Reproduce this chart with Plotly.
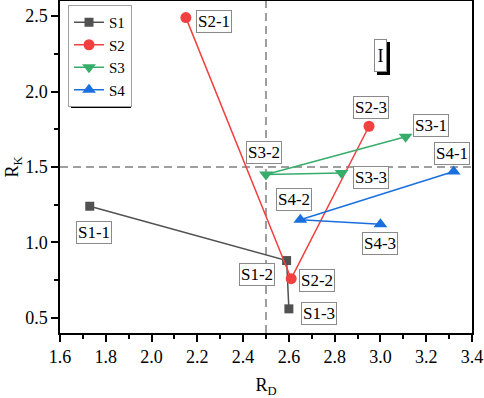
import plotly.graph_objects as go

# ---- data ----
series_names = ["S1", "S2", "S3", "S4"]
rd_s1 = [1.73, 2.59, 2.60]
rk_s1 = [1.24, 0.88, 0.56]
rd_s2 = [2.15, 2.61, 2.95]
rk_s2 = [2.49, 0.76, 1.77]
rd_s3 = [3.11, 2.50, 2.83]
rk_s3 = [1.70, 1.45, 1.46]
rd_s4 = [3.32, 2.65, 3.00]
rk_s4 = [1.47, 1.15, 1.12]
point_labels = [["S1-1", "S1-2", "S1-3"],
                ["S2-1", "S2-2", "S2-3"],
                ["S3-1", "S3-2", "S3-3"],
                ["S4-1", "S4-2", "S4-3"]]
rd_threshold = 2.5
rk_threshold = 1.5
region_label = "I"
region_pos = (3.0, 2.24)

# ---- style ----
FONT = "Liberation Serif"
colors = ["#515151", "#F14040", "#37AD6B", "#1A6FDF"]
symbols = ["square", "circle", "triangle-down", "triangle-up"]
sizes = [9, 11, 12, 12]
# label offsets in pixels (dx right, dy down)
label_offsets = [[(4, 26), (-30, 14), (30, 5)],
                 [(28, 4), (26, 2), (2, -19)],
                 [(25, -11), (-2, -22), (29, 4)],
                 [(-2, -18), (-6, -20), (0, 19)]]

xs = [rd_s1, rd_s2, rd_s3, rd_s4]
ys = [rk_s1, rk_s2, rk_s3, rk_s4]

fig = go.Figure()
for i in range(4):
    fig.add_trace(go.Scatter(
        x=xs[i], y=ys[i], mode="lines+markers", name=series_names[i],
        line=dict(color=colors[i], width=1.5),
        marker=dict(symbol=symbols[i], size=sizes[i], color=colors[i]),
    ))

annotations = []
for i in range(4):
    for j in range(3):
        dx, dy = label_offsets[i][j]
        annotations.append(dict(
            x=xs[i][j], y=ys[i][j], xref="x", yref="y",
            text=point_labels[i][j], showarrow=False,
            xshift=dx, yshift=-dy,
            font=dict(family=FONT, size=17, color="black"),
            bgcolor="white", bordercolor="#8a8a8a", borderwidth=1, borderpad=1,
        ))
# region label with shadow
annotations.append(dict(
    x=region_pos[0], y=region_pos[1], xref="x", yref="y", text=" ",
    showarrow=False, xshift=3, yshift=-3, width=9, height=29,
    bgcolor="black", borderpad=1, borderwidth=1, bordercolor="black",
))
annotations.append(dict(
    x=region_pos[0], y=region_pos[1], xref="x", yref="y", text=region_label,
    showarrow=False, width=9, height=29,
    font=dict(family=FONT, size=18, color="black"),
    bgcolor="white", bordercolor="#8a8a8a", borderwidth=1, borderpad=1,
))

shapes = [
    dict(type="line", xref="x", yref="paper", x0=rd_threshold, x1=rd_threshold, y0=0, y1=1,
         line=dict(color="#808080", width=1.5, dash="8px,5px"), layer="below"),
    dict(type="line", xref="paper", yref="y", x0=0, x1=1, y0=rk_threshold, y1=rk_threshold,
         line=dict(color="#808080", width=1.5, dash="8px,5px"), layer="below"),
    # legend shadow
    dict(type="rect", xref="paper", yref="paper",
         x0=(71 - 60) / 412, x1=(131 - 60) / 412,
         y0=1 - (108 - 1) / 332, y1=1 - (8 - 1) / 332,
         fillcolor="black", line=dict(width=0), layer="above"),
]

axis_common = dict(
    showline=True, linecolor="black", linewidth=1.5, mirror=True,
    ticks="outside", ticklen=7, tickwidth=1.5, tickcolor="black",
    showgrid=False, zeroline=False, automargin=False,
    tickfont=dict(family=FONT, size=18, color="black"),
)

fig.update_layout(
    width=484, height=398,
    margin=dict(l=60, r=12, t=1, b=65),
    paper_bgcolor="white", plot_bgcolor="white",
    font=dict(family=FONT, color="black"),
    showlegend=True,
    legend=dict(x=(68 - 60) / 412, y=1 - (5 - 1) / 332, xanchor="left", yanchor="top",
                bgcolor="white", bordercolor="#a0a0a0", borderwidth=1,
                font=dict(family=FONT, size=15, color="black"),
                tracegroupgap=0),
    xaxis=dict(range=[1.6, 3.4], dtick=0.2, tick0=1.6, tickformat=".1f",
               minor=dict(dtick=0.1, ticks="outside", ticklen=4, tickcolor="black", tickwidth=1.5),
               title=dict(text="R<sub>D</sub>", font=dict(family=FONT, size=18, color="black"), standoff=15),
               **axis_common),
    yaxis=dict(range=[0.4, 2.6], dtick=0.5, tick0=0.5, tickformat=".1f",
               minor=dict(dtick=0.25, ticks="outside", ticklen=4, tickcolor="black", tickwidth=1.5),
               title=dict(text="R<sub>K</sub>", font=dict(family=FONT, size=18, color="black"), standoff=0),
               **axis_common),
    annotations=annotations,
    shapes=shapes,
)

fig.write_html("out.html", config={"displayModeBar": False},
               post_script="document.body.style.margin='0';document.body.style.overflow='hidden';")
